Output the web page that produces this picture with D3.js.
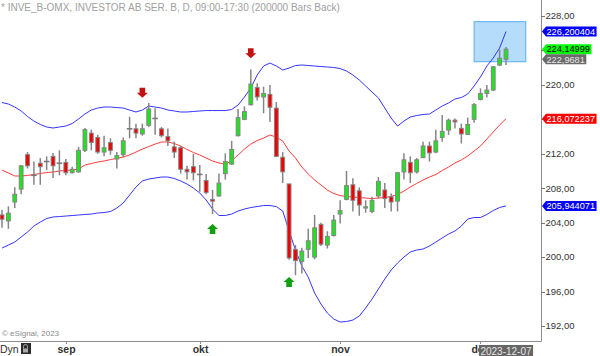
<!DOCTYPE html>
<html><head><meta charset="utf-8">
<script src="https://cdn.jsdelivr.net/npm/d3@7"></script>
<style>
html,body{margin:0;padding:0;background:#fff;overflow:hidden;}
svg{display:block;font-family:Arial,"Liberation Sans",sans-serif;}
</style></head><body>
<svg id="chart" width="600" height="356"></svg>
<script>
// ---- data (daily candles 2023-08-18 .. 2023-12-07) ----
const opens  = [204.9,204.2,206.4,207.9,211.9,209.5,210.9,211.1,211.7,210.9,
                211.0,209.8,209.9,212.4,214.4,213.9,212.2,213.3,211.4,211.9,
                214.9,214.9,214.3,215.3,216.1,214.9,214.0,212.8,212.7,210.2,
                210.5,209.6,208.9,206.7,207.1,209.7,210.8,214.1,216.0,217.7,
                219.7,218.6,218.9,217.3,211.6,208.5,200.9,199.5,200.9,200.0,
                203.8,201.4,202.5,205.0,206.7,208.4,207.7,205.7,205.3,207.1,
                207.8,207.0,206.5,209.9,211.0,209.9,211.55,212.9,212.2,213.9,
                214.75,215.9,214.95,214.25,216.0,218.3,219.0,219.4,222.3,222.97];
const highs  = [205.5,205.9,208.1,210.7,212.2,211.1,211.5,211.7,212.1,212.4,
                211.4,210.5,212.8,215.0,214.8,214.2,214.1,213.8,212.2,213.9,
                216.3,215.5,215.5,217.9,217.3,215.1,214.95,213.4,212.9,210.6,
                212.0,210.7,209.65,207.8,209.7,212.05,213.5,217.2,217.5,221.8,
                220.2,219.8,220.0,218.0,212.2,208.5,201.4,201.1,203.3,204.9,
                204.0,203.0,204.9,206.6,210.0,209.15,208.1,206.6,207.0,209.3,
                208.6,207.4,209.9,212.05,211.7,211.5,213.4,213.4,214.8,216.5,
                216.1,216.1,215.5,216.2,217.9,219.6,220.0,222.2,224.1,224.4];
const lows   = [203.4,203.3,205.7,207.3,210.3,208.4,208.4,210.1,209.2,209.5,
                209.5,209.7,209.8,212.2,212.4,212.0,211.7,211.9,210.3,211.6,
                213.8,213.8,214.1,215.1,214.2,213.9,212.9,211.5,209.7,209.0,
                208.9,207.6,207.3,205.0,207.0,209.0,210.7,214.0,215.9,217.6,
                218.2,216.7,215.7,211.6,208.6,199.7,197.9,198.1,199.9,199.75,
                201.3,201.0,202.4,203.9,206.6,205.3,204.8,205.15,205.1,206.8,
                205.7,205.3,205.3,209.0,208.6,209.7,211.5,211.1,212.05,213.4,
                214.2,214.95,213.2,214.2,215.6,218.2,218.55,219.3,222.2,222.3];
const closes = [204.4,205.1,207.3,210.6,210.6,209.5,210.5,211.1,210.6,210.9,
                209.8,210.2,212.4,214.8,213.3,212.2,212.7,212.4,211.8,213.5,
                214.9,214.4,214.9,217.2,216.1,214.1,213.5,212.2,210.2,209.9,
                209.8,209.6,207.5,206.5,208.6,211.1,212.5,216.2,216.9,220.1,
                218.6,219.0,217.4,211.7,209.9,199.9,199.6,200.7,201.9,203.4,
                201.5,202.4,204.3,205.4,208.3,206.6,206.05,205.85,206.6,208.8,
                206.8,206.4,209.8,211.3,209.8,211.3,212.9,212.1,213.5,214.6,
                215.9,215.7,214.3,215.4,217.7,219.0,219.4,222.1,223.1,224.14999];
// Bollinger bands
const upperBand  = [217.95,217.78,217.43,216.97,216.33,215.80,215.40,215.11,214.99,215.11,
                    215.22,215.51,216.04,216.62,217.08,217.31,217.43,217.43,217.37,217.31,
                    217.08,216.85,217.08,217.55,217.43,217.31,217.08,216.97,216.85,216.85,
                    216.91,216.97,217.02,217.02,217.02,217.02,217.14,217.66,218.59,219.64,
                    221.15,222.19,222.54,222.19,221.73,221.96,222.25,222.31,222.25,222.19,
                    222.13,222.08,222.02,221.90,221.61,221.15,220.57,219.87,219.17,218.48,
                    217.31,216.15,215.22,215.80,216.27,216.44,216.56,216.62,217.08,217.55,
                    217.90,218.36,218.53,218.94,219.87,220.92,222.19,223.12,224.28,226.200404];
const middleBand = [210.11,209.77,209.42,209.42,209.48,209.59,209.71,209.82,209.88,210.00,
                    210.06,210.11,210.23,210.69,210.87,211.04,211.16,211.33,211.45,211.62,
                    211.86,212.20,212.55,212.84,213.13,213.37,213.37,213.19,212.90,212.50,
                    212.15,211.86,211.51,211.16,210.93,210.81,211.16,211.86,212.55,213.13,
                    213.54,213.83,214.18,213.94,213.48,212.32,211.51,210.46,209.65,208.95,
                    208.37,207.79,207.38,207.15,207.04,206.98,206.92,206.86,206.80,206.86,
                    206.92,207.04,207.27,207.67,208.14,208.55,208.95,209.30,209.59,210.06,
                    210.46,210.93,211.28,211.74,212.32,212.90,213.71,214.53,215.34,216.072237];
const lowerBand  = [201.05,201.40,201.75,202.33,202.91,203.61,204.07,204.48,204.66,204.71,
                    204.77,204.83,204.89,204.95,205.00,205.12,205.18,205.29,205.70,206.28,
                    207.21,208.14,208.84,209.07,209.18,209.30,209.30,209.13,208.84,208.49,
                    208.02,207.44,206.63,205.58,204.83,204.83,205.00,205.35,205.58,205.76,
                    205.87,205.99,205.99,205.87,205.35,203.03,200.82,198.96,197.68,195.83,
                    194.55,193.50,192.81,192.46,192.52,192.69,193.16,194.09,195.13,196.29,
                    197.45,198.50,199.31,200.01,200.59,200.82,200.94,201.29,201.75,202.22,
                    202.68,203.03,203.61,204.42,204.60,204.60,204.95,205.41,205.76,205.944071];
const monthLabels = ["sep","okt","nov","dec"];
const monthIndex  = [10,31,53,75];
const yTickValues = [192,196,200,204,208,212,216,220,224,228];
const arrowIndex  = [22,39,33,45];
const arrowDir    = ["down","down","up","up"];
const arrowPrice  = [218.5,223.1,203.85,197.7];
const boxIndex    = [74,82.1];
const boxPrice    = [227.34,222.69];
const lastOpen    = 222.9681;
const lastClose   = 224.14999;
const lastDate    = "2023-12-07";
const titleText   = "* INVE_B-OMX, INVESTOR AB SER. B, D, 09:00-17:30 (200000 Bars Back)";

// ---- drawing ----
const svg = d3.select("#chart");
const axisX = 541, axisY = 341;
const x = d3.scaleLinear().domain([0, opens.length - 1]).range([2, 506]);
const y = d3.scaleLinear().domain([192, 228]).range([326, 16]);
const loc = d3.formatLocale({decimal: ",", thousands: " ", grouping: [3], currency: ["", ""]});
const fmt2 = loc.format(".2f");
const fmtRaw = v => String(v).replace(".", ",");

const plot = svg.append("g");

// forecast box
plot.append("rect")
  .attr("x", x(boxIndex[0])).attr("y", y(boxPrice[0]))
  .attr("width", x(boxIndex[1]) - x(boxIndex[0]))
  .attr("height", y(boxPrice[1]) - y(boxPrice[0]))
  .attr("fill", "#b5dcfa").attr("stroke", "#58aef0").attr("stroke-width", 1);

// bands
const line = arr => d3.line().x((d, i) => x(i)).y(d => y(d))(arr);
plot.append("path").attr("d", line(middleBand)).attr("fill", "none").attr("stroke", "#ff3b3b").attr("stroke-width", 1);
plot.append("path").attr("d", line(upperBand)).attr("fill", "none").attr("stroke", "#3434ff").attr("stroke-width", 1);
plot.append("path").attr("d", line(lowerBand)).attr("fill", "none").attr("stroke", "#3434ff").attr("stroke-width", 1);

// candles
const idx = d3.range(opens.length);
const cg = plot.append("g");
cg.selectAll("line.wick").data(idx).join("line")
  .attr("x1", i => x(i)).attr("x2", i => x(i))
  .attr("y1", i => y(highs[i])).attr("y2", i => y(lows[i]))
  .attr("stroke", "#858585").attr("stroke-width", 1.5);
const bw = 3.8;
idx.forEach(i => {
  const o = opens[i], c = closes[i];
  if (Math.abs(o - c) < 0.05) {
    cg.append("line").attr("x1", x(i) - 2.8).attr("x2", x(i) + 2.8)
      .attr("y1", y(o)).attr("y2", y(o)).attr("stroke", "#7a7a7a").attr("stroke-width", 1.6);
  } else {
    const top = y(Math.max(o, c)), bot = y(Math.min(o, c));
    cg.append("rect").attr("x", x(i) - bw / 2).attr("y", top)
      .attr("width", bw).attr("height", Math.max(1.2, bot - top))
      .attr("fill", c > o ? "#1ee41e" : "#f00000")
      .attr("stroke", "#858585").attr("stroke-width", 1);
  }
});

// arrows
arrowIndex.forEach((ai, k) => {
  const s = arrowDir[k] === "down" ? -1 : 1;
  const pts = [[0,0],[-5.5,5*s],[-2.8,5*s],[-2.8,10*s],[2.8,10*s],[2.8,5*s],[5.5,5*s]];
  plot.append("path")
    .attr("d", d3.line()(pts) + "Z")
    .attr("transform", `translate(${x(ai)},${y(arrowPrice[k])})`)
    .attr("fill", arrowDir[k] === "down" ? "#c41212" : "#0f9f0f");
});

// axes lines
svg.append("line").attr("x1", axisX + 0.5).attr("x2", axisX + 0.5).attr("y1", 0).attr("y2", axisY)
  .attr("stroke", "#8c8c8c").attr("stroke-width", 1);
svg.append("line").attr("x1", 0).attr("x2", axisX + 0.5).attr("y1", axisY + 0.5).attr("y2", axisY + 0.5)
  .attr("stroke", "#8c8c8c").attr("stroke-width", 1);

// last value labels (defined before ticks so that covered tick labels can be skipped)
const labels = [
  {v: upperBand[upperBand.length - 1], bg: "#0000ff", fg: "#ffffff"},
  {v: lastClose, bg: "#00ff00", fg: "#000000"},
  {v: lastOpen, bg: "#6a6a6a", fg: "#e8e8e8"},
  {v: middleBand[middleBand.length - 1], bg: "#ff0000", fg: "#ffffff"},
  {v: lowerBand[lowerBand.length - 1], bg: "#0000ff", fg: "#ffffff"}
];

// y axis ticks
const ya = svg.append("g");
yTickValues.forEach(v => {
  ya.append("line").attr("x1", axisX).attr("x2", axisX + 4).attr("y1", Math.round(y(v)) + 0.5).attr("y2", Math.round(y(v)) + 0.5)
    .attr("stroke", "#777");
  const covered = labels.some(l => Math.abs(y(l.v) - y(v)) < 9);
  if (!covered) {
    ya.append("text").attr("x", axisX + 4.5).attr("y", y(v)).attr("dy", "0.35em")
      .attr("font-size", 9.5).attr("fill", "#333").text(fmt2(v));
  }
});

labels.forEach(l => {
  const g = svg.append("g");
  const yy = y(l.v);
  const poly = g.append("path");
  const t = g.append("text").attr("x", axisX + 5.5).attr("y", yy).attr("dy", "0.36em")
    .attr("font-size", 9.2).attr("fill", l.fg).text(fmtRaw(l.v));
  const w = t.node().getComputedTextLength();
  const x0 = axisX + 1, x1 = axisX + 5, x2 = Math.min(599, axisX + 5.5 + w + 1.5), h = 5;
  poly.attr("d", `M${x0},${yy}L${x1},${yy - h}L${x2},${yy - h}L${x2},${yy + h}L${x1},${yy + h}Z`).attr("fill", l.bg);
});

// last date box geometry
const lastX = x(opens.length - 1);

// x axis months
const clip = svg.append("clipPath").attr("id", "monthClip");
monthLabels.forEach((m, k) => {
  const xx = Math.round(x(monthIndex[k])) + 0.5;
  svg.append("line").attr("x1", xx).attr("x2", xx).attr("y1", axisY).attr("y2", axisY + 3).attr("stroke", "#8c8c8c");
  svg.append("text").attr("x", xx).attr("y", 353).attr("text-anchor", "middle")
    .attr("font-size", 10.5).attr("font-weight", "bold").attr("fill", "#333").text(m);
});

// last date box
{
  const g = svg.append("g");
  const r = g.append("rect");
  const t = g.append("text").attr("x", lastX).attr("y", 354.5).attr("text-anchor", "middle")
    .attr("font-size", 10).attr("fill", "#e6e6e6").text(lastDate);
  const w = t.node().getComputedTextLength();
  r.attr("x", lastX - w / 2 - 1.5).attr("y", 345).attr("width", w + 3).attr("height", 12).attr("fill", "#666");
}

// Dyn + icon
svg.append("text").attr("x", 0).attr("y", 353).attr("font-size", 10.5).attr("fill", "#333").text("Dyn");
svg.append("rect").attr("x", 21).attr("y", 343).attr("width", 10).attr("height", 11).attr("fill", "#2b2b2b");
svg.append("path").attr("d", "M23.5,348.5v-2a2,2 0 0 1 4,0v2").attr("fill", "none").attr("stroke", "#aaa").attr("stroke-width", 1);
svg.append("rect").attr("x", 23).attr("y", 348.5).attr("width", 5).attr("height", 4).attr("fill", "#aaa");

// copyright
svg.append("text").attr("x", 2).attr("y", 336).attr("font-size", 8).attr("fill", "#8a8a8a").text("© eSignal, 2023");

// title
svg.append("text").attr("x", 1).attr("y", 11).attr("font-size", 10).attr("fill", "#a0a0a0").text(titleText);
</script>
</body></html>
